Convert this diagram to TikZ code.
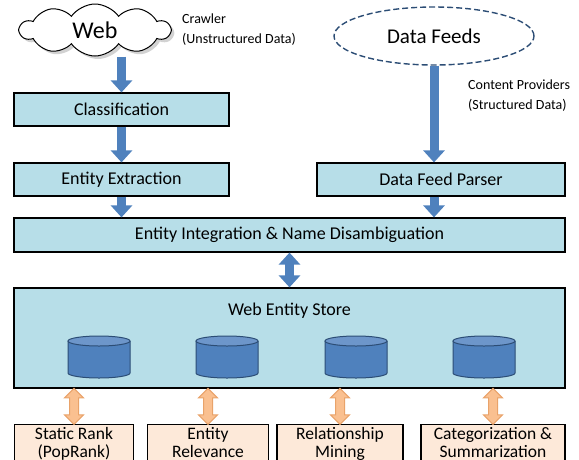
\documentclass[tikz,border=0pt]{standalone}
\usepackage{fontspec}
\setmainfont{Carlito}
\usetikzlibrary{shapes.symbols, shapes.geometric, shapes.arrows, arrows.meta, shadows, positioning}

\definecolor{boxblue}{HTML}{B7DEE8}
\definecolor{dbblue}{HTML}{4F81BD}
\definecolor{dbtop}{HTML}{6D96CA}
\definecolor{dbline}{HTML}{2C4D75}
\definecolor{peach}{HTML}{FDE9D9}
\definecolor{orangefill}{HTML}{FAC090}
\definecolor{orangeline}{HTML}{E9A36A}
\definecolor{feedline}{HTML}{2C4D75}

\begin{document}
\begin{tikzpicture}[x = 1pt, y = -1pt,
  stage/.style = {draw, fill = boxblue, line width = 1.2pt, inner sep = 0pt, font = \fontsize{18}{20}\selectfont},
  task/.style = {draw, fill = peach, line width = 1.2pt, anchor = north, inner xsep = 0pt, inner ysep = 2.5pt, align = center, font = \fontsize{17.5}{18.5}\selectfont},
  dbbody/.style = {draw = dbline, fill = dbblue, line width = 1pt},
  dbend/.style = {draw = dbline, fill = dbtop, line width = 1pt},
  flow/.style = {dbblue, line width = 9pt, -{Triangle[length = 12pt, width = 21pt]}},
  both/.style = {dbblue, line width = 9pt, {Triangle[length = 12pt, width = 21pt]}-{Triangle[length = 12pt, width = 21pt]}},
  link/.style = {double arrow, draw = orangeline, fill = orangefill, line width = 1pt, rotate = 90, double arrow head extend = 5pt, minimum width = 18pt, inner sep = 4pt},
  note/.style = {align = left, anchor = north west, inner sep = 0pt, font = \fontsize{14}{20}\selectfont}]
\clip (0, 0) rectangle (579, 459);
\node[cloud, cloud puffs = 10, cloud puff arc = 110, aspect = 3, draw, fill = white, line width = 1pt, minimum width = 150pt, minimum height = 52pt, drop shadow = {shadow xshift = 3pt, shadow yshift = -3pt, fill = gray!70}, font = \fontsize{24}{26}\selectfont] (web) at (95, 30) {Web};
\node[note] (crawler) at (182, 14) {Crawler\\(Unstructured Data)};
\node[ellipse, draw = feedline, dash pattern = on 6pt off 3pt, line width = 1.4pt, fill = white, minimum width = 200pt, minimum height = 58pt, font = \fontsize{21}{23}\selectfont] (feeds) at (434, 36) {Data Feeds};
\node[note] (providers) at (468, 80) {Content Providers\\(Structured Data)};
\node[stage, minimum width = 215pt, minimum height = 33pt] (classif) at (121.5, 109.5) {Classification};
\node[stage, minimum width = 215pt, minimum height = 33pt] (extract) at (121.5, 179.5) {Entity Extraction};
\node[stage, minimum width = 248pt, minimum height = 33pt] (parser) at (441, 179.5) {Data Feed Parser};
\node[stage, minimum width = 551pt, minimum height = 34pt] (integ) at (289.5, 235) {Entity Integration \& Name Disambiguation};
\node[stage, minimum width = 551pt, minimum height = 100pt] (store) at (289.5, 338) {};
\node[font = \fontsize{18}{20}\selectfont] (title) at (289.5, 311) {Web Entity Store};
\foreach \n/\x in {1/99, 2/227, 3/356, 4/484} {
  \coordinate (db\n) at (\x, 357);
  \draw[dbbody] ([shift = {(-31, -16)}]db\n) -- ++(0, 32) arc (180:360:31pt and 5pt) -- ++(0, -32);
  \draw[dbend] ([yshift = 16pt]db\n) ellipse (31pt and 5pt);
}
\node[task, minimum width = 119pt] (rank) at (74, 424) {Static Rank\\(PopRank)};
\node[task, minimum width = 121pt] (relev) at (208, 424) {Entity\\Relevance};
\node[task, minimum width = 126pt] (mining) at (340, 424) {Relationship\\Mining};
\node[task, minimum width = 144pt] (summ) at (493, 424) {Categorization \&\\Summarization};
\draw[flow] (web.south -| classif) -- (classif.north);
\draw[flow] (classif) -- (extract);
\draw[flow] (extract) -- (integ.north -| extract);
\draw[flow] (feeds) -- (feeds.south |- parser.north);
\draw[flow] (parser.south -| feeds) -- (integ.north -| feeds);
\draw[both] (integ) -- (store);
\path (store.south -| rank) -- (rank.north) node[link, midway, minimum height = 36pt] (l1) {};
\path (store.south -| relev) -- (relev.north) node[link, midway, minimum height = 36pt] (l2) {};
\path (store.south -| mining) -- (mining.north) node[link, midway, minimum height = 36pt] (l3) {};
\path (store.south -| summ) -- (summ.north) node[link, midway, minimum height = 36pt] (l4) {};
\end{tikzpicture}
\end{document}
